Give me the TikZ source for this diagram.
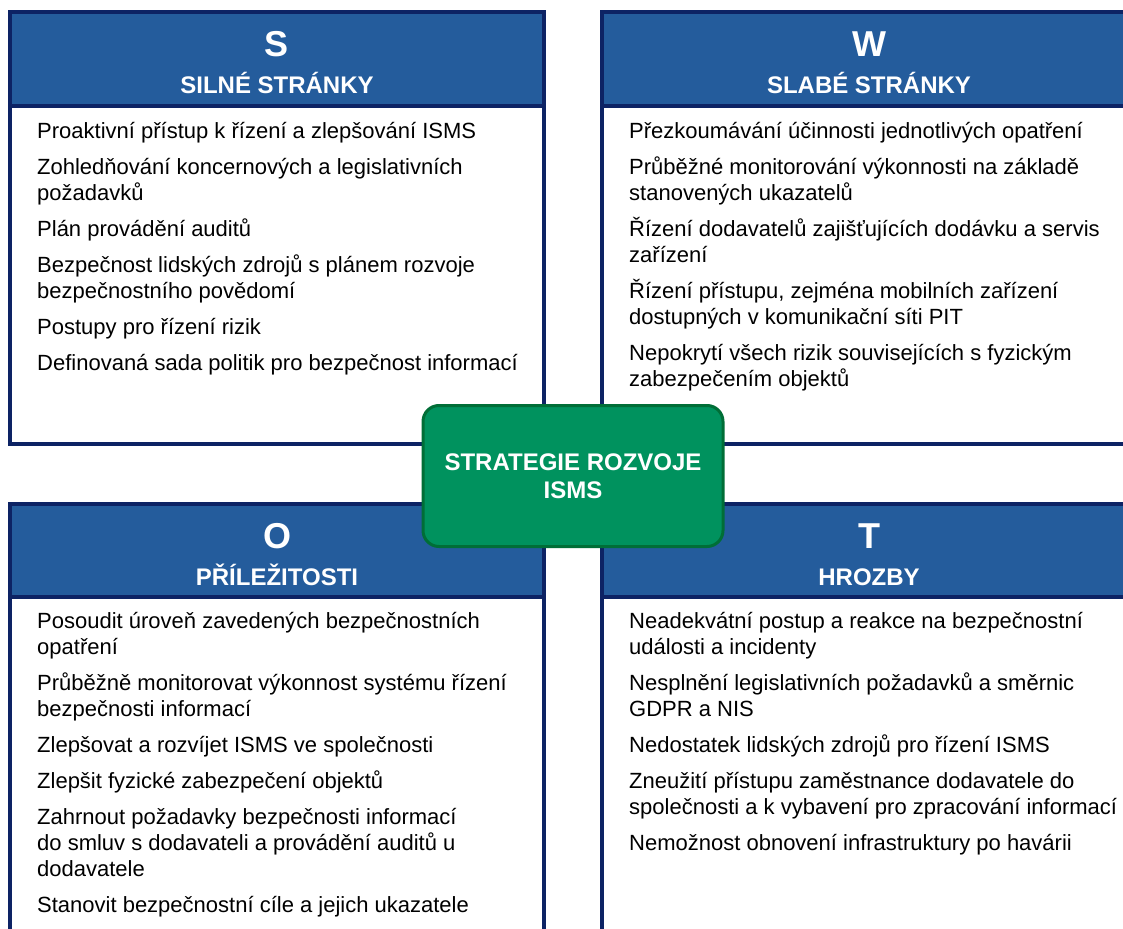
\documentclass[tikz,border=0pt]{standalone}
\usepackage{fontspec}
\setmainfont{Liberation Sans}
\definecolor{navy}{HTML}{0D2364}
\definecolor{hdblue}{HTML}{245C9C}
\definecolor{coregreen}{HTML}{00925E}
\definecolor{coreedge}{HTML}{006E37}
\tikzset{
  quad/.style={draw=navy, line width=3.5pt, fill=white},
  headbar/.style={fill=hdblue, draw=navy, line width=3.5pt},
  letter/.style={text=white, anchor=base, font=\bfseries\fontsize{36}{40}\selectfont},
  title/.style={text=white, anchor=base, font=\bfseries\fontsize{24}{28}\selectfont},
  itemlist/.style={anchor=north west, inner sep=0pt, align=left, font=\fontsize{22}{26}\selectfont},
  core/.style={rounded corners=16pt, fill=coregreen, draw=coreedge, line width=3pt, text=white,
    align=center, font=\bfseries\fontsize{24}{28}\selectfont, minimum width=300pt, minimum height=141pt}
}
\begin{document}
\begin{tikzpicture}[x=1pt,y=-1pt]
        \clip (0,0) rectangle (1123,928);
        \fill[white] (0,0) rectangle (1123,928);
        % S
        \draw[quad] (10,12) rectangle (544,444);
        \filldraw[headbar] (10,12) rectangle (544,106);
        \node (sLetter) [letter] at (277,57) {S};
        \node (sTitle) [title] at (277,94) {SILNÉ STRÁNKY};
        \node (sList) [itemlist] at (37,122) {Proaktivní přístup k řízení a zlepšování ISMS\\[10pt]
          Zohledňování koncernových a legislativních\\požadavků\\[10pt]
          Plán provádění auditů\\[10pt]
          Bezpečnost lidských zdrojů s plánem rozvoje\\bezpečnostního povědomí\\[10pt]
          Postupy pro řízení rizik\\[10pt]
          Definovaná sada politik pro bezpečnost informací};
        % W
        \draw[quad] (602,12) rectangle (1136,444);
        \filldraw[headbar] (602,12) rectangle (1136,106);
        \node (wLetter) [letter] at (869,57) {W};
        \node (wTitle) [title] at (869,94) {SLABÉ STRÁNKY};
        \node (wList) [itemlist] at (629,122) {Přezkoumávání účinnosti jednotlivých opatření\\[10pt]
          Průběžné monitorování výkonnosti na základě\\stanovených ukazatelů\\[10pt]
          Řízení dodavatelů zajišťujících dodávku a servis\\zařízení\\[10pt]
          Řízení přístupu, zejména mobilních zařízení\\dostupných v komunikační síti PIT\\[10pt]
          Nepokrytí všech rizik souvisejících s fyzickým\\zabezpečením objektů};
        % O
        \draw[quad] (10,504) rectangle (544,960);
        \filldraw[headbar] (10,504) rectangle (544,597);
        \node (oLetter) [letter] at (277,548) {O};
        \node (oTitle) [title] at (277,585) {PŘÍLEŽITOSTI};
        \node (oList) [itemlist] at (37,612) {Posoudit úroveň zavedených bezpečnostních\\opatření\\[10pt]
          Průběžně monitorovat výkonnost systému řízení\\bezpečnosti informací\\[10pt]
          Zlepšovat a rozvíjet ISMS ve společnosti\\[10pt]
          Zlepšit fyzické zabezpečení objektů\\[10pt]
          Zahrnout požadavky bezpečnosti informací\\do smluv s dodavateli a provádění auditů u\\dodavatele\\[10pt]
          Stanovit bezpečnostní cíle a jejich ukazatele};
        % T
        \draw[quad] (602,504) rectangle (1136,960);
        \filldraw[headbar] (602,504) rectangle (1136,597);
        \node (tLetter) [letter] at (869,548) {T};
        \node (tTitle) [title] at (869,585) {HROZBY};
        \node (tList) [itemlist] at (629,612) {Neadekvátní postup a reakce na bezpečnostní\\události a incidenty\\[10pt]
          Nesplnění legislativních požadavků a směrnic\\GDPR a NIS\\[10pt]
          Nedostatek lidských zdrojů pro řízení ISMS\\[10pt]
          Zneužití přístupu zaměstnance dodavatele do\\společnosti a k vybavení pro zpracování informací\\[10pt]
          Nemožnost obnovení infrastruktury po havárii};
        % centre
        \node (core) [core] at (573,476) {STRATEGIE ROZVOJE\\ISMS};
\end{tikzpicture}
\end{document}
